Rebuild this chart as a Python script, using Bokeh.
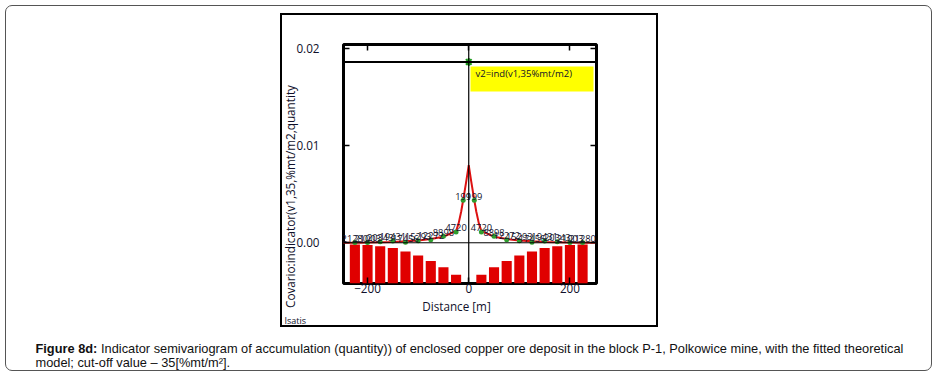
import math
from bokeh.plotting import figure
from bokeh.models import (Range1d, LinearAxis, FixedTicker, PrintfTickFormatter,
                          Span, BoxAnnotation, Label, ColumnDataSource, InlineStyleSheet)
from bokeh.core.properties import value
from bokeh.embed import file_html
from bokeh.resources import INLINE

# ---- data ----
lags = [11, 25, 50, 75, 100, 125, 150, 175, 200, 225]
cov = [0.00439, 0.00112, 0.00067, 0.00030, 0.00022, 0.00005, 0.00019, 0.00011, 0.00003, 0.00003]
pairs = [199, 4720, 8898, 12272, 15293, 17456, 19431, 20343, 21003, 21280]
model_dist = [0, 5, 10, 15, 20, 25, 50, 75, 100, 125, 150, 175, 200, 225, 250]
model_cov = [0.0080, 0.0063, 0.0047, 0.0032, 0.0020, 0.00122, 0.00062, 0.00038,
             0.00024, 0.00015, 0.00009, 0.00006, 0.00003, 0.00001, 0.0]
variance = 0.01865
x_ticks = [-200, 0, 200]
y_ticks = [0.0, 0.01, 0.02]

px = [-d for d in reversed(lags)] + lags
py = list(reversed(cov)) + cov
pn = [str(n) for n in reversed(pairs)] + [str(n) for n in pairs]
bx = [-d for d in reversed(lags[1:])] + lags[1:]
bn = list(reversed(pairs[1:])) + pairs[1:]
mx = [-d for d in reversed(model_dist[1:])] + model_dist
my = list(reversed(model_cov[1:])) + model_cov

TXT = "#10102a"
FONT = "Open Sans"

FL, FB = 343, 283

def sx(X):
    return X - FL

def sy(Y):
    return FB - Y

# page frames (outer rounded border, inner Isatis frame) drawn with CSS on the host
frames_css = """
:host { position: relative; }
:host::before {
  content: ""; position: absolute; left: 5px; top: 5px; width: 927px; height: 366px;
  box-sizing: border-box; border: 1.5px solid #555555; border-radius: 7px;
  pointer-events: none; z-index: 5;
}
:host::after {
  content: ""; position: absolute; left: 280px; top: 13px; width: 378px; height: 314px;
  box-sizing: border-box; border: 2.5px solid #000000;
  pointer-events: none; z-index: 5;
}
"""

p = figure(width=938, height=377, x_range=Range1d(-247.5, 252.5),
           y_range=Range1d(-0.0042, 0.02045), output_backend="svg",
           toolbar_location=None, min_border_left=343, min_border_right=342,
           min_border_top=44, min_border_bottom=94,
           stylesheets=[InlineStyleSheet(css=frames_css)])
p.extra_y_ranges = {"pairs": Range1d(0, 130400)}
p.xgrid.visible = False
p.ygrid.visible = False
p.background_fill_color = "white"
p.border_fill_color = "white"
p.outline_line_color = "black"
p.outline_line_width = 3

def style_axis(ax, labels=True):
    ax.axis_line_color = None
    ax.major_tick_in = 6
    ax.major_tick_out = 0
    ax.major_tick_line_width = 1.5
    ax.major_tick_line_color = "black"
    ax.minor_tick_in = 0
    ax.minor_tick_out = 0
    ax.major_label_text_font = FONT
    ax.major_label_text_font_size = "11.7px"
    ax.major_label_text_color = TXT
    if not labels:
        ax.major_label_text_alpha = 0

xa = p.xaxis[0]
xa.ticker = FixedTicker(ticks=x_ticks)
style_axis(xa)
xa.major_label_standoff = 0

ya = p.yaxis[0]
ya.ticker = FixedTicker(ticks=y_ticks)
ya.formatter = PrintfTickFormatter(format="%.2f")
style_axis(ya)
ya.major_label_standoff = 24

top = LinearAxis(ticker=FixedTicker(ticks=x_ticks))
style_axis(top, labels=False)
p.add_layout(top, "above")
right = LinearAxis(ticker=FixedTicker(ticks=y_ticks))
style_axis(right, labels=False)
p.add_layout(right, "right")

p.vbar(x=bx, top=bn, bottom=0, width=20, y_range_name="pairs",
       fill_color="#e00000", line_color=None)

p.add_layout(Span(location=0, dimension="width", line_color="black", line_width=1))
p.add_layout(Span(location=0, dimension="height", line_color="black", line_width=1.2))
p.add_layout(Span(location=variance, dimension="width", line_color="black", line_width=2))

p.line(mx, my, line_color="#dd1111", line_width=2)
src = ColumnDataSource(dict(x=px, y=py, t=pn))
p.scatter("x", "y", source=src, size=5, fill_color="#2e9e2e", line_color=None)
p.text("x", "y", text="t", source=src, text_font=value(FONT), text_font_size="9.3px",
       text_color=TXT, text_align="center", text_baseline="alphabetic", y_offset=-4)
p.scatter([0], [variance], marker="asterisk", size=8, line_color="#1a9a1a", line_width=2)

p.add_layout(BoxAnnotation(left=sx(470), right=sx(593), top=sy(66), bottom=sy(91),
                           left_units="screen", right_units="screen",
                           top_units="screen", bottom_units="screen",
                           fill_color="#ffff00", fill_alpha=1, line_color=None))
p.add_layout(Label(x=sx(475), y=sy(73), x_units="screen", y_units="screen",
                   text="v2=ind(v1,35%mt/m2)", text_font=FONT, text_font_size="9.5px",
                   text_color=TXT, text_baseline="middle"))

# ---- texts outside the frame: side-panel labels in canvas units ----
def clabel(side, x, y, text, **kw):
    p.add_layout(Label(x=x, y=y, x_units="canvas", y_units="canvas", text=text, **kw), side)

clabel("left", 289, 196, "Covario:indicator(v1,35,%mt/m2,quantity", angle=math.pi / 2,
       text_font=FONT, text_font_size="11.7px", text_color=TXT,
       text_align="center", text_baseline="middle")
clabel("below", 456, 305.5, "Distance [m]", text_font=FONT, text_font_size="11.7px",
       text_color=TXT, text_align="center", text_baseline="middle")
clabel("below", 284, 319.5, "Isatis", text_font=FONT, text_font_size="9px",
       text_color=TXT, text_baseline="middle")

CAP = "Liberation Sans"
clabel("below", 35, 348, "Figure 8d:", text_font=CAP, text_font_size="12.8px",
       text_font_style="bold", text_color="#111111", text_baseline="alphabetic")
clabel("below", 100.5, 348,
       "Indicator semivariogram of accumulation (quantity)) of enclosed copper ore deposit in the block P-1, Polkowice mine, with the fitted theoretical",
       text_font=CAP, text_font_size="12.8px", text_color="#111111", text_baseline="alphabetic")
clabel("below", 35, 362, "model; cut-off value \u2013 35[%mt/m\u00b2].",
       text_font=CAP, text_font_size="12.8px", text_color="#111111", text_baseline="alphabetic")

open("out.html", "w").write(file_html(p, INLINE))
